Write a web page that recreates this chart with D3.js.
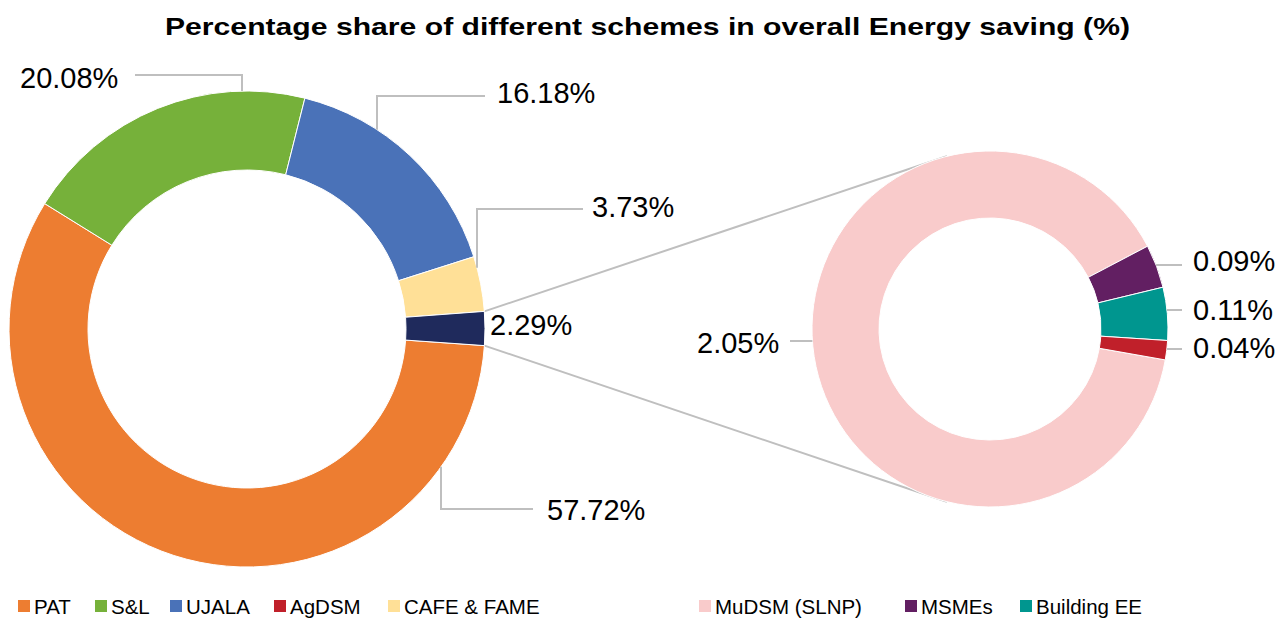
<!DOCTYPE html>
<html>
<head>
<meta charset="utf-8">
<script src="https://cdn.jsdelivr.net/npm/d3@7"></script>
<style>
  body { margin: 0; background: #fff; }
  svg { display: block; font-family: "Liberation Sans", Arial, sans-serif; }
</style>
</head>
<body>
<div id="chart"></div>
<script>
// data
var schemes = ["PAT", "S&L", "UJALA", "AgDSM", "CAFE & FAME", "MuDSM (SLNP)", "MSMEs", "Building EE"];
var shares = [57.72, 20.08, 16.18, 0.04, 3.73, 2.05, 0.09, 0.11];
var colors = ["#ED7D31", "#76B13A", "#4A72B8", "#C0202A", "#FFE097", "#F9CBCB", "#621F62", "#00968F"];

// main ring: big schemes + one grouped slice, second ring: the grouped ones
var mainOrder = ["PAT", "S&L", "UJALA", "CAFE & FAME", "Other"];
var subOrder = ["MuDSM (SLNP)", "MSMEs", "Building EE", "AgDSM"];
var otherColor = "#1F2A5C";

var width = 1279, height = 619;
var deg = Math.PI / 180;

var svg = d3.select("#chart").append("svg")
    .attr("width", width)
    .attr("height", height);

var share = {}, color = {};
schemes.forEach(function(s, i) {
    share[s] = shares[i];
    color[s] = colors[i];
});
share.Other = d3.sum(subOrder, function(s) { return share[s]; });
color.Other = otherColor;

var mainData = mainOrder.map(function(s) { return {name: s, value: share[s]}; });
var subData = subOrder.map(function(s) { return {name: s, value: share[s]}; });

var main = {cx: 247, cy: 329, outer: 238, inner: 159, start: 94};
var sub = {cx: 990, cy: 329, outer: 178, inner: 111, start: 100};

function pieFor(cfg) {
    return d3.pie()
        .sort(null)
        .value(function(d) { return d.value; })
        .startAngle(cfg.start * deg)
        .endAngle(cfg.start * deg + 2 * Math.PI);
}

function polar(cfg, r, a) {
    return [cfg.cx + r * Math.sin(a), cfg.cy - r * Math.cos(a)];
}

var mainArcs = pieFor(main)(mainData);
var subArcs = pieFor(sub)(subData);

// connector lines from the grouped slice to the second ring
var otherArc = mainArcs[mainArcs.length - 1];
var joinAngle = 14 * deg;
var links = [
    [polar(main, main.outer, otherArc.startAngle), polar(sub, sub.outer, -joinAngle)],
    [polar(main, main.outer, otherArc.endAngle), polar(sub, sub.outer, Math.PI + joinAngle)]
];
svg.selectAll(".link")
    .data(links)
    .enter().append("line")
    .attr("class", "link")
    .attr("x1", function(d) { return d[0][0]; })
    .attr("y1", function(d) { return d[0][1]; })
    .attr("x2", function(d) { return d[1][0]; })
    .attr("y2", function(d) { return d[1][1]; })
    .attr("stroke", "#BFBFBF")
    .attr("stroke-width", 2);

function drawRing(cfg, arcs) {
    var arc = d3.arc().innerRadius(cfg.inner).outerRadius(cfg.outer);
    svg.append("g")
        .attr("transform", "translate(" + cfg.cx + "," + cfg.cy + ")")
        .selectAll("path")
        .data(arcs)
        .enter().append("path")
        .attr("d", arc)
        .attr("fill", function(d) { return color[d.data.name]; })
        .attr("stroke", "#fff")
        .attr("stroke-width", 1);
}
drawRing(main, mainArcs);
drawRing(sub, subArcs);

// label placement: text anchor and elbow of the leader line
var labelLayout = {
    "PAT":          {ring: main, tx: 547, ty: 520, elbow: [441, 509], line: "v", end: 533},
    "S&L":          {ring: main, tx: 20,  ty: 88,  elbow: [242, 75],  line: "v", end: 135},
    "UJALA":        {ring: main, tx: 497, ty: 103, elbow: [377, 96],  line: "v", end: 485},
    "CAFE & FAME":  {ring: main, tx: 592, ty: 217, elbow: [477, 209], line: "v", end: 583},
    "Other":        {ring: main, tx: 490, ty: 335, elbow: null},
    "MuDSM (SLNP)": {ring: sub, tx: 697,  ty: 353, elbow: [790, 341], line: "h", end: 790},
    "MSMEs":        {ring: sub, tx: 1193, ty: 271, elbow: [1182, 265], line: "h", end: 1182},
    "Building EE":  {ring: sub, tx: 1193, ty: 320, elbow: [1182, 310], line: "h", end: 1182},
    "AgDSM":        {ring: sub, tx: 1193, ty: 358, elbow: [1182, 349], line: "h", end: 1182}
};

// point on outer circle straight below/above (v) or beside (h) the elbow
function arcHit(cfg, p, mode) {
    if (mode === "v") {
        var dx = p[0] - cfg.cx;
        var dy = Math.sqrt(cfg.outer * cfg.outer - dx * dx);
        return [p[0], p[1] < cfg.cy ? cfg.cy - dy : cfg.cy + dy];
    }
    var ddy = p[1] - cfg.cy;
    var ddx = Math.sqrt(cfg.outer * cfg.outer - ddy * ddy);
    return [p[0] < cfg.cx ? cfg.cx - ddx : cfg.cx + ddx, p[1]];
}

var allLabels = mainData.concat(subData);
allLabels.forEach(function(d) {
    var L = labelLayout[d.name];
    if (L.elbow) {
        var hit = arcHit(L.ring, L.elbow, L.line);
        var pts = L.line === "v"
            ? [hit, L.elbow, [L.end, L.elbow[1]]]
            : [hit, [L.end, L.elbow[1]]];
        svg.append("path")
            .attr("d", d3.line()(pts))
            .attr("fill", "none")
            .attr("stroke", "#BFBFBF")
            .attr("stroke-width", 2);
    }
    svg.append("text")
        .attr("x", L.tx)
        .attr("y", L.ty)
        .attr("font-size", 29)
        .attr("fill", "#000")
        .text(d3.format(".2f")(d.value) + "%");
});

// title
svg.append("text")
    .attr("x", 165)
    .attr("y", 35)
    .attr("font-size", 24)
    .attr("font-weight", "bold")
    .attr("textLength", 965)
    .attr("lengthAdjust", "spacingAndGlyphs")
    .text("Percentage share of different schemes in overall Energy saving (%)");

// legend
var legendX = [18, 95, 170, 274, 388, 699, 905, 1020];
var legend = svg.selectAll(".legend")
    .data(schemes)
    .enter().append("g")
    .attr("class", "legend")
    .attr("transform", function(d, i) { return "translate(" + legendX[i] + ",600)"; });
legend.append("rect")
    .attr("width", 12)
    .attr("height", 12)
    .attr("fill", function(d) { return color[d]; });
legend.append("text")
    .attr("x", 16)
    .attr("y", 14)
    .attr("font-size", 20.5)
    .text(function(d) { return d; });
</script>
</body>
</html>
